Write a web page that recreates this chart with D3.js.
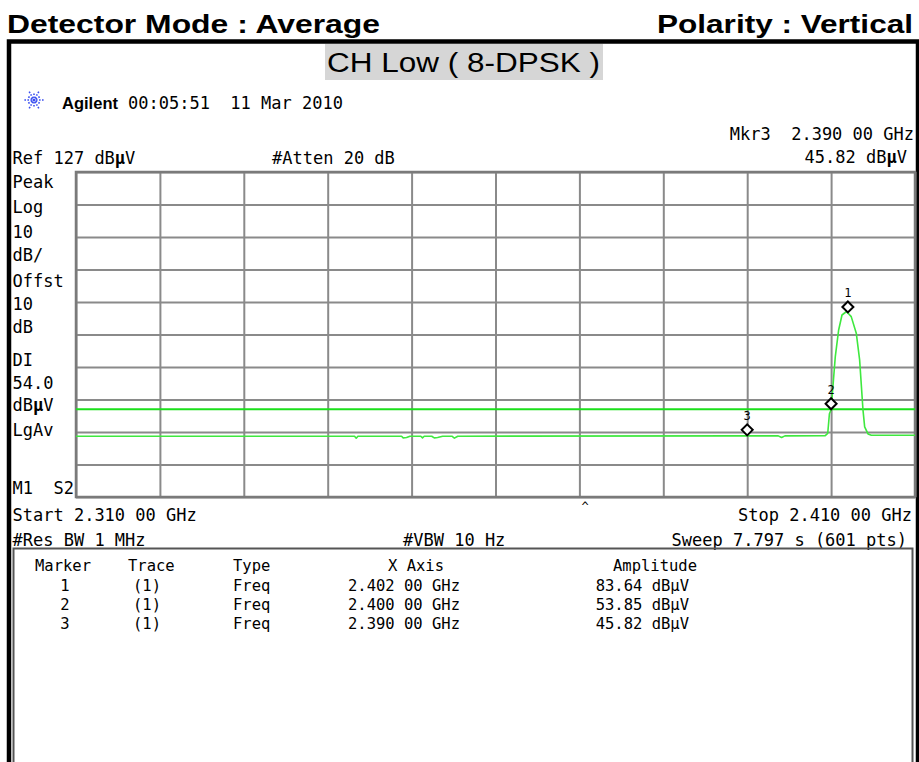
<!DOCTYPE html>
<html>
<head>
<meta charset="utf-8">
<script src="https://cdn.jsdelivr.net/npm/d3@7/dist/d3.min.js"></script>
<style>
  html, body { margin: 0; padding: 0; background: #fff; }
  svg { display: block; }
</style>
</head>
<body>
<script>
// ---- Sweep settings ----
const startGHz = 2.310;
const stopGHz = 2.410;
const refLevel = 127;      // dBuV at top graticule line
const dbPerDiv = 10;
const divisions = 10;
const displayLine = 54.0;  // DL, dBuV

// ---- Trace 1 (frequency in GHz, level in dBuV) ----
const traceFreq = [
  2.3100, 2.3432, 2.3434, 2.3436, 2.3488, 2.3490, 2.3494, 2.3498,
  2.3511, 2.3513, 2.3515, 2.3524, 2.3527, 2.3531, 2.3537, 2.3548,
  2.3551, 2.3555, 2.3900, 2.3937, 2.3941, 2.3945, 2.3993, 2.3996,
  2.3998, 2.4000, 2.4005, 2.4009, 2.4013, 2.4018, 2.4020, 2.4024,
  2.4030, 2.4034, 2.4038, 2.4040, 2.4044, 2.4048, 2.4100
];
const traceLevel = [
  45.7, 45.7, 45.1, 45.7, 45.7, 45.2, 45.3, 45.7,
  45.7, 45.2, 45.7, 45.7, 45.2, 45.3, 45.7, 45.7,
  45.1, 45.7, 45.82, 45.8, 45.3, 45.8, 45.9, 46.6,
  52.6, 53.85, 70.2, 78.4, 83.0, 84.0, 83.64, 82.5,
  77.4, 69.2, 53.8, 48.6, 46.4, 46.0, 46.0
];

// ---- Markers ----
const markerIds = [1, 2, 3];
const markerTrace = ["(1)", "(1)", "(1)"];
const markerType = ["Freq", "Freq", "Freq"];
const markerFreq = [2.402, 2.400, 2.390];
const markerLevel = [83.64, 53.85, 45.82];
const activeMarker = 3;

// ---- Annotation text ----
const leftLabels = ["Peak", "Log", "10", "dB/", "Offst", "10", "dB", "DI", "54.0", "dBµV", "LgAv", "M1  S2"];
const headerLeft = "Detector Mode : Average";
const headerRight = "Polarity : Vertical";
const channelTitle = "CH Low ( 8-DPSK )";
const timestamp = "00:05:51  11 Mar 2010";
const attenText = "#Atten 20 dB";
const rbwText = "#Res BW 1 MHz";
const vbwText = "#VBW 10 Hz";
const sweepText = "Sweep 7.797 s (601 pts)";
const tableHeaders = ["Marker", "Trace", "Type", "X Axis", "Amplitude"];

const W = 919, H = 762;
const mono = "'DejaVu Sans Mono', monospace";
const sans = "'Liberation Sans', Arial, sans-serif";

const fmtGHz = f => f.toFixed(3) + " 00 GHz";
const fmtDb = v => v.toFixed(2) + " dBµV";

const svg = d3.select("body").append("svg")
  .attr("width", W).attr("height", H)
  .attr("viewBox", `0 0 ${W} ${H}`);

svg.append("rect").attr("width", W).attr("height", H).attr("fill", "#fff");

// ---- Page headings ----
svg.append("text")
  .attr("x", 7).attr("y", 33)
  .attr("font-family", sans).attr("font-weight", "bold").attr("font-size", 26.5)
  .attr("textLength", 373).attr("lengthAdjust", "spacingAndGlyphs")
  .text(headerLeft);
svg.append("text")
  .attr("x", 657).attr("y", 33)
  .attr("font-family", sans).attr("font-weight", "bold").attr("font-size", 26.5)
  .attr("textLength", 256).attr("lengthAdjust", "spacingAndGlyphs")
  .text(headerRight);

// ---- Outer frame ----
svg.append("path")
  .attr("d", "M9,762 V41.5 H918 V762")
  .attr("fill", "none").attr("stroke", "#000").attr("stroke-width", 4.5);

// channel title with grey band
svg.append("rect")
  .attr("x", 325).attr("y", 44).attr("width", 278).attr("height", 36)
  .attr("fill", "#d6d6d6");
svg.append("text")
  .attr("x", 327).attr("y", 72)
  .attr("font-family", sans).attr("font-size", 27)
  .attr("textLength", 273).attr("lengthAdjust", "spacingAndGlyphs")
  .text(channelTitle);

// ---- Agilent logo + timestamp ----
const logo = svg.append("g").attr("transform", "translate(34,100)")
  .attr("stroke", "#3a4ff0").attr("stroke-width", 1.6)
  .attr("stroke-dasharray", "1.6,1.4").attr("fill", "none");
d3.range(12).forEach(i => {
  const a = i * Math.PI / 6;
  const r = (i % 2 === 0) ? 10.5 : 7.5;
  logo.append("line")
    .attr("x1", Math.cos(a) * 2).attr("y1", Math.sin(a) * 2)
    .attr("x2", Math.cos(a) * r).attr("y2", Math.sin(a) * r);
});
logo.append("circle").attr("r", 1.6).attr("fill", "#3a4ff0").attr("stroke", "none");

svg.append("text")
  .attr("x", 62).attr("y", 109)
  .attr("font-family", sans).attr("font-weight", "bold").attr("font-size", 17)
  .attr("textLength", 56).attr("lengthAdjust", "spacingAndGlyphs")
  .text("Agilent");
svg.append("text")
  .attr("x", 128).attr("y", 109)
  .attr("font-family", mono).attr("font-size", 17)
  .style("white-space", "pre")
  .text(timestamp);

// "dBµV" with a bold µ, preceded by an optional prefix
function unitText(sel, prefix) {
  sel.append("tspan").text(prefix + "dB");
  sel.append("tspan").attr("font-weight", "bold").text("µ");
  sel.append("tspan").text("V");
  return sel;
}

// ---- Active marker readout ----
const ai = markerIds.indexOf(activeMarker);
svg.append("text")
  .attr("x", 914).attr("y", 140).attr("text-anchor", "end")
  .attr("font-family", mono).attr("font-size", 17)
  .style("white-space", "pre")
  .text(`Mkr${activeMarker}  ${fmtGHz(markerFreq[ai])}`);
unitText(svg.append("text")
  .attr("x", 907).attr("y", 163).attr("text-anchor", "end")
  .attr("font-family", mono).attr("font-size", 17),
  markerLevel[ai].toFixed(2) + " ");

unitText(svg.append("text")
  .attr("x", 12.5).attr("y", 164)
  .attr("font-family", mono).attr("font-size", 17),
  "Ref " + refLevel + " ");
svg.append("text")
  .attr("x", 272).attr("y", 164)
  .attr("font-family", mono).attr("font-size", 17)
  .text(attenText);

// ---- Left-hand status column ----
const leftBaselines = [188, 213, 238, 261, 287, 310, 333, 366, 389, 411, 436, 494];
leftLabels.forEach((t, i) => {
  const el = svg.append("text")
    .attr("x", 12.5).attr("y", leftBaselines[i])
    .attr("font-family", mono).attr("font-size", 17)
    .style("white-space", "pre");
  if (t === "dBµV") unitText(el, "");
  else el.text(t);
});

// ---- Graticule ----
const plot = { left: 76, right: 915, top: 172, bottom: 497 };
const x = d3.scaleLinear().domain([startGHz, stopGHz]).range([plot.left, plot.right]);
const y = d3.scaleLinear()
  .domain([refLevel - dbPerDiv * divisions, refLevel])
  .range([plot.bottom, plot.top]);

const xDivs = d3.range(divisions + 1).map(i => startGHz + i * (stopGHz - startGHz) / divisions);
const yDivs = d3.range(divisions + 1).map(i => refLevel - i * dbPerDiv);

const gridX = svg.append("g")
  .attr("transform", `translate(0,${plot.bottom})`)
  .call(d3.axisBottom(x).tickValues(xDivs).tickSize(-(plot.bottom - plot.top)).tickFormat(""));
const gridY = svg.append("g")
  .attr("transform", `translate(${plot.left},0)`)
  .call(d3.axisLeft(y).tickValues(yDivs).tickSize(-(plot.right - plot.left)).tickFormat(""));
[gridX, gridY].forEach(g => {
  g.select(".domain").remove();
  g.selectAll(".tick line").attr("stroke", "#8a8a8a").attr("stroke-width", 2);
});
svg.append("rect")
  .attr("x", plot.left).attr("y", plot.top)
  .attr("width", plot.right - plot.left).attr("height", plot.bottom - plot.top)
  .attr("fill", "none").attr("stroke", "#7a7a7a").attr("stroke-width", 2.5);

// ---- Display line ----
svg.append("line")
  .attr("x1", plot.left).attr("x2", plot.right)
  .attr("y1", y(displayLine)).attr("y2", y(displayLine))
  .attr("stroke", "#1be01b").attr("stroke-width", 2);

// ---- Trace ----
const traceData = traceFreq.map((f, i) => [f, traceLevel[i]]);
svg.append("path")
  .datum(traceData)
  .attr("fill", "none")
  .attr("stroke", "#3fe83f")
  .attr("stroke-width", 1.6)
  .attr("stroke-linejoin", "round")
  .attr("d", d3.line().x(d => x(d[0])).y(d => y(d[1])));

// ---- Marker symbols ----
const mk = svg.append("g");
markerIds.forEach((id, i) => {
  const cx = x(markerFreq[i]);
  const cy = y(markerLevel[i]) - 6;
  mk.append("path")
    .attr("d", `M${cx},${cy - 5.5} L${cx + 5.5},${cy} L${cx},${cy + 5.5} L${cx - 5.5},${cy} Z`)
    .attr("fill", "#fff").attr("stroke", "#000").attr("stroke-width", 2);
  mk.append("text")
    .attr("x", cx).attr("y", cy - 10).attr("text-anchor", "middle")
    .attr("font-family", mono).attr("font-size", 12)
    .text(id);
});

// ---- Sweep annotations under the graticule ----
svg.append("text")
  .attr("x", 12.5).attr("y", 521)
  .attr("font-family", mono).attr("font-size", 17)
  .text("Start " + fmtGHz(startGHz));
svg.append("text")
  .attr("x", 912).attr("y", 521).attr("text-anchor", "end")
  .attr("font-family", mono).attr("font-size", 17)
  .text("Stop " + fmtGHz(stopGHz));
svg.append("text")
  .attr("x", 585).attr("y", 511).attr("text-anchor", "middle")
  .attr("font-family", mono).attr("font-size", 12)
  .text("^");
svg.append("text")
  .attr("x", 12.5).attr("y", 546)
  .attr("font-family", mono).attr("font-size", 17)
  .text(rbwText);
svg.append("text")
  .attr("x", 403).attr("y", 546)
  .attr("font-family", mono).attr("font-size", 17)
  .text(vbwText);
svg.append("text")
  .attr("x", 907).attr("y", 546).attr("text-anchor", "end")
  .attr("font-family", mono).attr("font-size", 17)
  .text(sweepText);

// ---- Marker table ----
svg.append("rect")
  .attr("x", 13.5).attr("y", 548.5).attr("width", 899).attr("height", 260)
  .attr("fill", "none").attr("stroke", "#555").attr("stroke-width", 2);

const tfs = 15.5;
const colStart = [35, 128, 233, 388, 613];
tableHeaders.forEach((h, i) => {
  svg.append("text")
    .attr("x", colStart[i]).attr("y", 571)
    .attr("font-family", mono).attr("font-size", tfs)
    .text(h);
});
const rowBase = [591, 610, 629];
markerIds.forEach((id, i) => {
  const yb = rowBase[i];
  const row = svg.append("g").attr("font-family", mono).attr("font-size", tfs);
  row.append("text").attr("x", 65).attr("y", yb).attr("text-anchor", "middle").text(id);
  row.append("text").attr("x", 133).attr("y", yb).text(markerTrace[i]);
  row.append("text").attr("x", 233).attr("y", yb).text(markerType[i]);
  row.append("text").attr("x", 460).attr("y", yb).attr("text-anchor", "end").text(fmtGHz(markerFreq[i]));
  row.append("text").attr("x", 689).attr("y", yb).attr("text-anchor", "end").text(fmtDb(markerLevel[i]));
});
</script>
</body>
</html>
